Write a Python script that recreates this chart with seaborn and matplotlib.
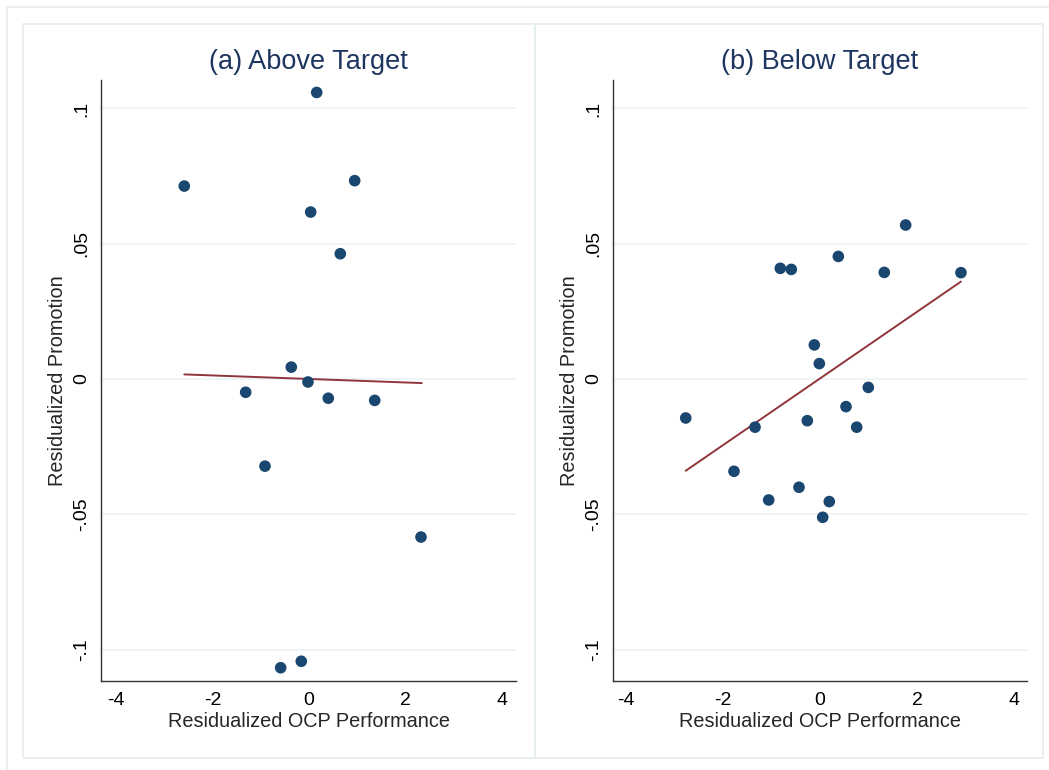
import numpy as np
import pandas as pd
import seaborn as sns
from matplotlib import pyplot as plt
from matplotlib.patches import Rectangle

# binned scatter points, panel (a) above target
above_x = [-2.584, 0.160, 0.947, 0.035, 0.649, -0.367, -0.021, -1.312, 0.400, 1.362,
           -0.912, 2.321, -0.587, -0.160]
above_y = [0.0713, 0.1059, 0.0733, 0.0617, 0.0463, 0.0044, -0.0011, -0.0049, -0.0071, -0.0079,
           -0.0322, -0.0584, -0.1067, -0.1043]
# fitted line ends, panel (a)
above_fit_x = [-2.584, 2.336]
above_fit_y = [0.0017, -0.0015]

# binned scatter points, panel (b) below target
below_x = [-2.763, -1.337, -1.770, -1.056, -0.817, -0.591, -0.117, -0.014, -0.261, -0.432,
           0.056, 0.191, 0.377, 0.535, 0.755, 0.994, 1.323, 1.763, 2.901]
below_y = [-0.0144, -0.0178, -0.0341, -0.0447, 0.0409, 0.0405, 0.0126, 0.0057, -0.0154, -0.0400,
           -0.0511, -0.0453, 0.0453, -0.0102, -0.0178, -0.0031, 0.0394, 0.0569, 0.0393]
below_fit_x = [-2.763, 2.901]
below_fit_y = [-0.0339, 0.0360]

titles = ['(a) Above Target', '(b) Below Target']
x_ticks = [-4, -2, 0, 2, 4]
y_ticks = [-0.1, -0.05, 0, 0.05, 0.1]
y_tick_labels = ['-.1', '-.05', '0', '.05', '.1']

sns.set_style('white')
plt.rcParams['font.family'] = ['Liberation Sans', 'DejaVu Sans']

navy = '#1a476f'
maroon = '#90353b'
frame_col = '#e6eef0'
grid_col = '#eaf2f3'

fig = plt.figure(figsize=(10.49, 7.7), dpi=100)
W, H = 1049, 770

# outer frame (right/bottom edges fall outside the image) and panel frames
fig.patches.append(Rectangle((7 / W, -0.05), 1.1, (H - 7) / H + 0.05, transform=fig.transFigure,
                             fill=False, edgecolor=frame_col, linewidth=1.2))
for x0, x1 in [(23, 535), (535, 1043)]:
    fig.patches.append(Rectangle((x0 / W, (H - 758) / H), (x1 - x0) / W, (758 - 24) / H,
                                 transform=fig.transFigure, fill=False,
                                 edgecolor=frame_col, linewidth=1.2))

panels = [
    (above_x, above_y, above_fit_x, above_fit_y, (101, 516), (-4.31, 4.29)),
    (below_x, below_y, below_fit_x, below_fit_y, (613, 1027), (-4.26, 4.26)),
]

for i, (px, py, fx, fy, (l, r), xlim) in enumerate(panels):
    ax = fig.add_axes([l / W, (H - 681) / H, (r - l) / W, (681 - 80) / H])
    df = pd.DataFrame({'x': px, 'y': py})
    fit = pd.DataFrame({'x': fx, 'y': fy})
    for yt in y_ticks:
        ax.axhline(yt, color=grid_col, linewidth=1.2, zorder=0)
    sns.lineplot(data=fit, x='x', y='y', ax=ax, color=maroon, linewidth=1.4, zorder=2)
    sns.scatterplot(data=df, x='x', y='y', ax=ax, color=navy, s=70, edgecolor='none',
                    linewidth=0, zorder=3)
    ax.set_xlim(*xlim)
    ax.set_ylim(-0.1116, 0.1105)
    ax.set_xticks(x_ticks)
    ax.set_xticklabels([str(t) for t in x_ticks])
    ax.set_yticks(y_ticks)
    ax.set_yticklabels(y_tick_labels, rotation=90, va='center')
    ax.tick_params(axis='both', direction='out', length=5, width=1, color='#333333',
                   labelsize=14, pad=3, labelcolor='black')
    ax.set_xlabel('Residualized OCP Performance', fontsize=14.3, labelpad=2)
    ax.set_ylabel('Residualized Promotion', fontsize=14.3, labelpad=4)
    ax.set_title(titles[i], fontsize=19.5, color='#1e3560', pad=8)
    for side in ['top', 'right']:
        ax.spines[side].set_visible(False)
    for side in ['left', 'bottom']:
        ax.spines[side].set_color('#333333')
        ax.spines[side].set_linewidth(1)
    ax.set_facecolor('white')

fig.savefig('out.png', dpi=100)
